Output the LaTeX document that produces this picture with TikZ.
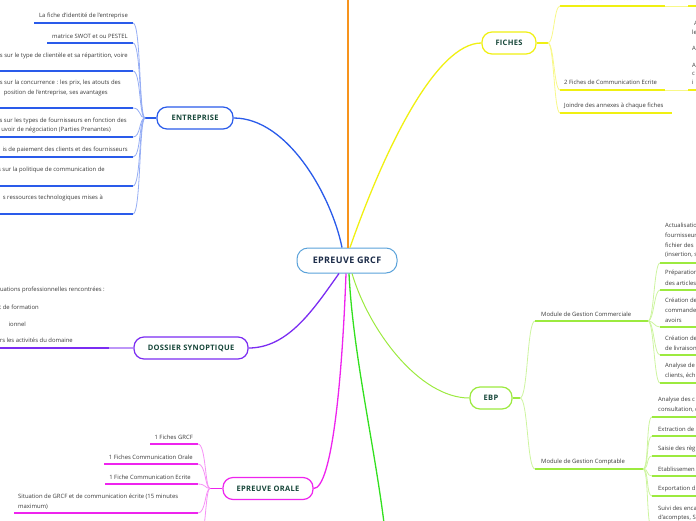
\documentclass[tikz,border=0pt]{standalone}
\usepackage{fontspec}
\setmainfont{Open Sans}
\newfontfamily\topicfont[LetterSpace=4]{Open Sans}
\usetikzlibrary{positioning, calc}
\definecolor{entcol}{HTML}{2A5BEA}
\definecolor{doscol}{HTML}{7B2CF2}
\definecolor{oralcol}{HTML}{EE24EE}
\definecolor{fichcol}{HTML}{F0F012}
\definecolor{ebpcol}{HTML}{9CEA3F}
\definecolor{downcol}{HTML}{33E01F}
\definecolor{upcol}{HTML}{F7941D}
\definecolor{centcol}{HTML}{5AA2DA}
\definecolor{titlecol}{HTML}{17473A}
\definecolor{navycol}{HTML}{1B2B48}
\definecolor{leafcol}{HTML}{3A3A3A}
\newcommand{\leaffont}{\fontsize{5.9}{10}\selectfont}
\tikzset{
  % central topic
  central/.style={draw=centcol, fill=white, line width=1pt, rounded corners=11pt,
                  minimum width=100pt, minimum height=25pt, inner sep=0pt,
                  font=\topicfont\fontsize{9}{10}\selectfont\bfseries, text=navycol},
  % main topics
  topic/.style={draw=#1, fill=white, line width=1.2pt, rounded corners=10pt,
                minimum height=22pt, inner sep=0pt,
                font=\topicfont\fontsize{7.5}{9}\selectfont\bfseries, text=titlecol},
  % subtopic text
  leaf/.style={font=\leaffont, text=leafcol, inner sep=0pt},
  % lines
  limb/.style={draw=#1, line width=1.3pt},
  under/.style={draw=#1, line width=1.6pt},
  twig/.style={draw=#1!50, line width=0.8pt},
}

\begin{document}
\begin{tikzpicture}[x=1pt, y=-1pt]
  \path[use as bounding box] (0,0) rectangle (696,520);
  \clip (0,0) rectangle (696,520);

  % topics
  \node[central] (grcf) at (347,260.5) {EPREUVE GRCF};
  \node[topic=entcol, minimum width=76pt]  (ent)  at (195,118)   {ENTREPRISE};
  \node[topic=doscol, minimum width=114pt] (dos)  at (191,348)   {DOSSIER SYNOPTIQUE};
  \node[topic=oralcol, minimum width=90pt] (oral) at (268,488.5) {EPREUVE ORALE};
  \node[topic=fichcol, minimum width=54pt] (fich) at (509,43)    {FICHES};
  \node[topic=ebpcol, minimum width=42pt]  (ebp)  at (491,398)   {EBP};
  \coordinate (up-end)   at (348,-3);
  \coordinate (down-end) at (384,523);

  % main branches
  \draw[limb=upcol, line width=1.1pt] (grcf.north -| up-end) -- (up-end);
  \draw[limb=entcol] ($(grcf.north)+(-5,0)$) .. controls +(-10,-50) and +(55,0) .. (ent.east);
  \draw[limb=fichcol] ($(grcf.north)+(3,0)$) .. controls +(35,-100) and +(-45,0) .. (fich.west);
  \draw[limb=doscol] ($(grcf.south)+(-8,0)$) .. controls +(-25,35) and +(40,0) .. (dos.east);
  \draw[limb=oralcol] ($(grcf.south)+(-1,0)$) .. controls +(-4,110) and +(18,0) .. (oral.east);
  \draw[limb=downcol] ($(grcf.south)+(2,0)$) .. controls +(4,80) and +(-10,-80) .. (down-end);
  \draw[limb=ebpcol, line width=1pt] ($(grcf.south)+(5,0)$) .. controls +(17,57) and +(-50,0) .. (ebp.west);

  % ENTREPRISE
  \coordinate (ent-j) at (145,118);
  \draw[limb=entcol] (ent.west) -- (ent-j);
  \foreach \i/\xl/\y in {1/34/23, 2/47/43, 3/-5/71, 4/-5/108, 5/-5/137, 6/-5/157, 7/-5/186, 8/-5/214} {
    \coordinate (ent-u\i) at (133,\y);
    \draw[under=entcol] (\xl,\y) -- (ent-u\i);
    \draw[twig=entcol] (ent-u\i) .. controls +(8,0) and +(-6,0) .. (ent-j);
  }
  \node[leaf, anchor=east] (ent-t1)  at (128,16)  {La fiche d'identité de l'entreprise};
  \node[leaf, anchor=east] (ent-t2)  at (128,36)  {matrice SWOT et ou PESTEL};
  \node[leaf, anchor=east] (ent-t3)  at (128,56)  {s sur le type de clientèle et sa répartition, voire};
  \node[leaf, anchor=east] (ent-t4a) at (121,83)  {s sur la concurrence : les prix, les atouts des};
  \node[leaf, anchor=east] (ent-t4b) at (108,93)  {position de l'entreprise, ses avantages};
  \node[leaf, anchor=east] (ent-t5a) at (127,121) {s sur les types de fournisseurs en fonction des};
  \node[leaf, anchor=east] (ent-t5b) at (111,130) {uvoir de négociation (Parties Prenantes)};
  \node[leaf, anchor=east] (ent-t6)  at (128,150) {is de paiement des clients et des fournisseurs};
  \node[leaf, anchor=east] (ent-t7)  at (105,170) {s sur la politique de communication de};
  \node[leaf, anchor=east] (ent-t8)  at (103,198) {s ressources technologiques mises à};

  % DOSSIER SYNOPTIQUE
  \coordinate (dos-u) at (109,348);
  \draw[under=doscol] (-5,348) -- (dos-u);
  \draw[twig=doscol, line width=1.2pt] (dos-u) -- (dos.west);
  \node[leaf, anchor=east] (dos-t1) at (105,290) {uations professionnelles rencontrées :};
  \node[leaf, anchor=east] (dos-t2) at (39,307)  {t de formation};
  \node[leaf, anchor=east] (dos-t3) at (26,324)  {ionnel};
  \node[leaf, anchor=east] (dos-t4) at (73,340)  {rs les activités du domaine};

  % EPREUVE ORALE
  \coordinate (oral-j) at (210,488.5);
  \draw[limb=oralcol] (oral.west) -- (oral-j);
  \foreach \i/\xl/\y in {1/150/444, 2/104/464, 3/105/484, 4/14/513, 5/150/545} {
    \coordinate (oral-u\i) at (198,\y);
    \draw[under=oralcol] (\xl,\y) -- (oral-u\i);
    \draw[twig=oralcol] (oral-u\i) .. controls +(8,0) and +(-5,0) .. (oral-j);
  }
  \node[leaf, anchor=east] (oral-t1)  at (193,437) {1 Fiches GRCF};
  \node[leaf, anchor=east] (oral-t2)  at (193,457) {1 Fiches Communication Orale};
  \node[leaf, anchor=east] (oral-t3)  at (191,477) {1 Fiche Communication Ecrite};
  \node[leaf, anchor=west] (oral-t4a) at (18,497)  {Situation de GRCF et de communication écrite (15 minutes};
  \node[leaf, anchor=west] (oral-t4b) at (18,507)  {maximum)};

  % FICHES
  \coordinate (fich-j) at (548,43);
  \draw[limb=fichcol] (fich.east) -- (fich-j);
  \foreach \i/\y/\xr in {1/6/665, 2/90/665, 3/113/672} {
    \coordinate (fich-u\i) at (560,\y);
    \draw[under=fichcol] (fich-u\i) -- (\xr,\y);
    \draw[twig=fichcol] (fich-j) .. controls +(6,0) and +(-6,0) .. (fich-u\i);
  }
  \foreach \y in {6,90} {
    \draw[twig=fichcol] (665,\y) -- (688,\y);
    \draw[under=fichcol] (688,\y) -- (700,\y);
  }
  \node[leaf, anchor=west] (fich-t1) at (564,-2)  {2 Fiches de Communication Orale};
  \node[leaf, anchor=west] (fich-t2) at (564,82)  {2 Fiches de Communication Ecrite};
  \node[leaf, anchor=west] (fich-t3) at (564,106) {Joindre des annexes à chaque fiches};
  \node[leaf, anchor=west] (fich-s1) at (694,23) {A};
  \node[leaf, anchor=west] (fich-s2) at (692,32) {le};
  \node[leaf, anchor=west] (fich-s3) at (692,48) {A};
  \node[leaf, anchor=west] (fich-s4) at (692,65) {A};
  \node[leaf, anchor=west] (fich-s5) at (692,74) {c};
  \node[leaf, anchor=west] (fich-s6) at (692,82) {i};

  % EBP
  \coordinate (ebp-j) at (520,398);
  \coordinate (com-l) at (535,321);
  \coordinate (cpt-l) at (535,469);
  \coordinate (com-j) at (648,321);
  \coordinate (cpt-j) at (643,469);
  \draw[limb=ebpcol] (ebp.east) -- (ebp-j);
  \draw[twig=ebpcol] (ebp-j) .. controls +(8,0) and +(-8,0) .. (com-l);
  \draw[twig=ebpcol] (ebp-j) .. controls +(8,0) and +(-8,0) .. (cpt-l);
  \draw[under=ebpcol] (com-l) -- (com-j);
  \draw[under=ebpcol] (cpt-l) -- (cpt-j);
  \node[leaf, anchor=west] (com-t) at (541,314) {Module de Gestion Commerciale};
  \node[leaf, anchor=west] (cpt-t) at (541,462) {Module de Gestion Comptable};
  \foreach \i/\y in {1/263, 2/290, 3/327, 4/355, 5/383} {
    \coordinate (com-u\i) at (660,\y);
    \draw[twig=ebpcol] (com-j) .. controls +(6,0) and +(-6,0) .. (com-u\i);
    \draw[under=ebpcol] (com-u\i) -- (700,\y);
  }
  \foreach \i/\y in {1/417, 2/436, 3/456, 4/476, 5/496, 6/528} {
    \coordinate (cpt-u\i) at (652,\y);
    \draw[twig=ebpcol] (cpt-j) .. controls +(6,0) and +(-6,0) .. (cpt-u\i);
    \draw[under=ebpcol] (cpt-u\i) -- (700,\y);
  }
  \node[leaf, anchor=west] (com-t1a) at (665,225) {Actualisatio};
  \node[leaf, anchor=west] (com-t1b) at (665,235) {fournisseur};
  \node[leaf, anchor=west] (com-t1c) at (665,245) {fichier des};
  \node[leaf, anchor=west] (com-t1d) at (665,255) {(insertion, s};
  \node[leaf, anchor=west] (com-t2a) at (665,273) {Préparation};
  \node[leaf, anchor=west] (com-t2b) at (665,283) {des articles};
  \node[leaf, anchor=west] (com-t3a) at (665,300) {Création de};
  \node[leaf, anchor=west] (com-t3b) at (665,310) {commande};
  \node[leaf, anchor=west] (com-t3c) at (665,320) {avoirs};
  \node[leaf, anchor=west] (com-t4a) at (665,338) {Création de};
  \node[leaf, anchor=west] (com-t4b) at (665,348) {de livraison};
  \node[leaf, anchor=west] (com-t5a) at (665,366) {Analyse de};
  \node[leaf, anchor=west] (com-t5b) at (665,376) {clients, éch};
  \node[leaf, anchor=west] (cpt-t1a) at (658,400) {Analyse des c};
  \node[leaf, anchor=west] (cpt-t1b) at (658,410) {consultation, c};
  \node[leaf, anchor=west] (cpt-t2)  at (658,429) {Extraction de};
  \node[leaf, anchor=west] (cpt-t3)  at (658,449) {Saisie des règ};
  \node[leaf, anchor=west] (cpt-t4)  at (658,469) {Etablissemen};
  \node[leaf, anchor=west] (cpt-t5)  at (658,489) {Exportation d};
  \node[leaf, anchor=west] (cpt-t6a) at (658,508) {Suivi des enca};
  \node[leaf, anchor=west] (cpt-t6b) at (658,518) {d'acomptes, S};
\end{tikzpicture}
\end{document}
